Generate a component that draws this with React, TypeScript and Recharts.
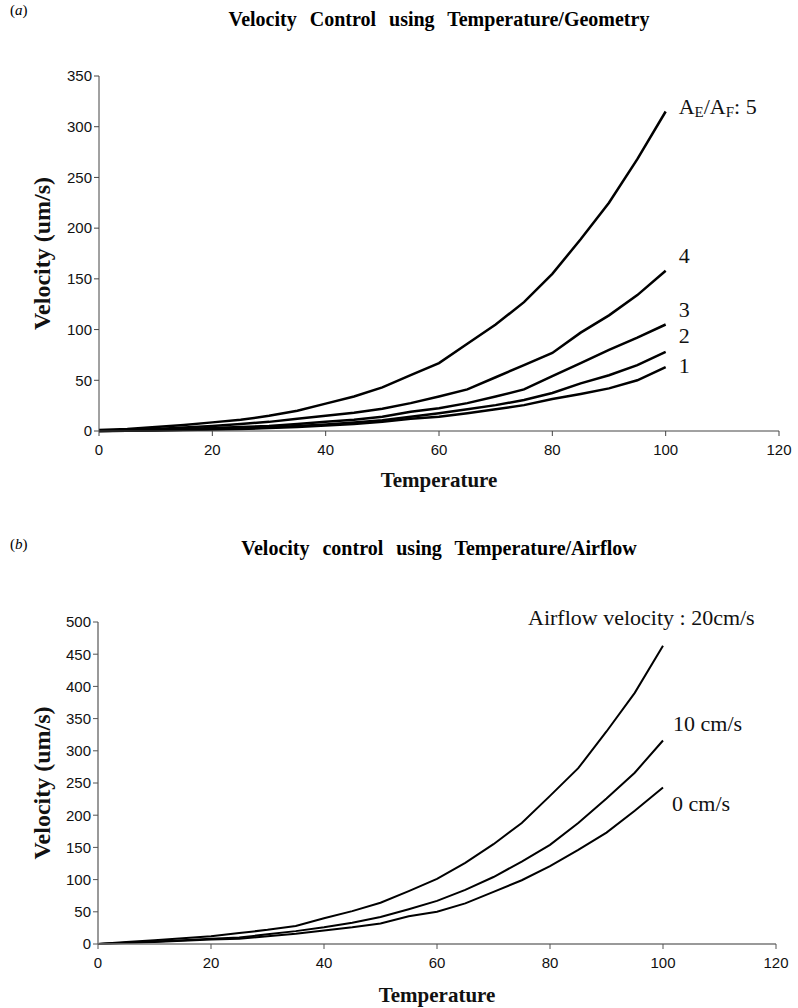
import { LineChart, Line, XAxis, YAxis, Label, LabelList } from "recharts";

// temperature steps shared by every curve
const temperatures = [0, 5, 10, 15, 20, 25, 30, 35, 40, 45, 50, 55, 60, 65, 70, 75, 80, 85, 90, 95, 100];

// (a) velocity vs temperature for each A_E/A_F ratio
const ratio5 = [1, 2, 4, 6, 8.5, 11, 15, 20, 27, 34, 43, 55, 67, 86, 105, 127, 155, 189, 225, 268, 315];
const ratio4 = [0.5, 1, 2, 3.5, 5, 7, 9, 12, 15, 18, 22, 27.5, 34, 41, 53, 65, 77, 97, 114, 134, 158];
const ratio3 = [0, 0.5, 1, 2, 3, 4, 5, 7, 9, 11, 14, 19, 22.5, 27.5, 34, 41, 54, 67, 80, 92, 105];
const ratio2 = [0, 0.3, 0.7, 1.2, 2, 2.5, 3.5, 5, 6.5, 8.5, 10.5, 14, 17.5, 21.5, 25.5, 30.5, 37.5, 47, 55, 65, 78];
const ratio1 = [0, 0.2, 0.5, 1, 1.5, 2, 3, 4, 5.5, 7, 9, 12, 14, 17.5, 21.5, 25.5, 31.5, 36.5, 42, 50, 63];

// (b) velocity vs temperature for each airflow velocity
const air20 = [0, 3, 6, 9, 12, 17, 22, 28, 40, 51, 64, 82, 101, 126, 155, 188, 230, 273, 330, 390, 463];
const air10 = [0, 2, 4, 6, 8, 10, 15, 20, 26, 33, 42, 54, 67, 84, 104, 128, 154, 188, 226, 266, 316];
const air0 = [0, 1.5, 3, 5, 7, 8, 12, 16, 21, 26, 32, 43, 50, 63, 81, 99, 121, 146, 173, 207, 243];

const tempTicks = [0, 20, 40, 60, 80, 100, 120];
const geomTicks = [0, 50, 100, 150, 200, 250, 300, 350];
const airTicks = [0, 50, 100, 150, 200, 250, 300, 350, 400, 450, 500];

const geometryData = temperatures.map((t, i) => ({
  t,
  r5: ratio5[i],
  r4: ratio4[i],
  r3: ratio3[i],
  r2: ratio2[i],
  r1: ratio1[i],
}));

const airflowData = temperatures.map((t, i) => ({
  t,
  a20: air20[i],
  a10: air10[i],
  a0: air0[i],
}));

const SERIF = "'Liberation Serif', 'Times New Roman', serif";
const SANS = "'Liberation Sans', Arial, sans-serif";
const LAST = temperatures.length - 1;

const tickStyle = { fontSize: 15, fill: "#111", fontFamily: SANS };

// text drawn beside the last point of a curve
const endLabel =
  (dx: number, dy: number, body: React.ReactNode) =>
  (props: any) => {
    if (props.index !== LAST) return null;
    return (
      <text x={props.x + dx} y={props.y + dy} fontFamily={SERIF} fontSize={22} fill="#111" dominantBaseline="middle">
        {body}
      </text>
    );
  };

const yTitle = (x: number) => (props: any) => {
  const vb = props.viewBox;
  const cy = vb.y + vb.height / 2;
  return (
    <text x={x} y={cy} transform={`rotate(-90, ${x}, ${cy})`} textAnchor="middle" fontFamily={SERIF} fontWeight="bold" fontSize={24} fill="#111">
      Velocity (um/s)
    </text>
  );
};

const xTitle = (dy: number) => (props: any) => {
  const vb = props.viewBox;
  return (
    <text x={vb.x + vb.width / 2} y={vb.y + dy} textAnchor="middle" fontFamily={SERIF} fontWeight="bold" fontSize={21} fill="#111">
      Temperature
    </text>
  );
};

const panelTag = (letter: string, top: number) => (
  <div style={{ position: "absolute", left: 10, top, fontFamily: SERIF, fontSize: 15 }}>
    (<i>{letter}</i>)
  </div>
);

const chartTitle = (text: string, top: number) => (
  <div
    style={{
      position: "absolute",
      left: 99,
      width: 680,
      top,
      textAlign: "center",
      fontFamily: SERIF,
      fontWeight: "bold",
      fontSize: 20,
      wordSpacing: 8,
    }}
  >
    {text}
  </div>
);

export default function App() {
  return (
    <div style={{ position: "absolute", left: 0, top: 0, width: 798, height: 1008, background: "#fff" }}>
      {panelTag("a", 2)}
      {chartTitle("Velocity Control using Temperature/Geometry", 8)}

      <div style={{ position: "absolute", left: 0, top: 0 }}>
        <LineChart width={798} height={500} data={geometryData} margin={{ top: 76, right: 19, bottom: 39, left: 39 }}>
          <XAxis
            dataKey="t"
            type="number"
            domain={[0, 120]}
            ticks={tempTicks}
            height={30}
            tick={tickStyle}
            tickSize={5}
            tickMargin={8}
            axisLine={{ stroke: "#444" }}
            tickLine={{ stroke: "#444" }}
          >
            <Label content={xTitle(56)} />
          </XAxis>
          <YAxis
            type="number"
            domain={[0, 350]}
            ticks={geomTicks}
            width={60}
            tick={tickStyle}
            tickSize={5}
            axisLine={{ stroke: "#444" }}
            tickLine={{ stroke: "#444" }}
          >
            <Label content={yTitle(50)} />
          </YAxis>
          <Line dataKey="r5" type="linear" stroke="#000" strokeWidth={2.5} dot={false} isAnimationActive={false}>
            <LabelList
              dataKey="r5"
              content={endLabel(13, -3, (
                <>
                  A<tspan fontSize={15} dy={5}>E</tspan>
                  <tspan dy={-5}>/A</tspan>
                  <tspan fontSize={15} dy={5}>F</tspan>
                  <tspan dy={-5}>: 5</tspan>
                </>
              ))}
            />
          </Line>
          <Line dataKey="r4" type="linear" stroke="#000" strokeWidth={2.5} dot={false} isAnimationActive={false}>
            <LabelList dataKey="r4" content={endLabel(13, -13, "4")} />
          </Line>
          <Line dataKey="r3" type="linear" stroke="#000" strokeWidth={2.5} dot={false} isAnimationActive={false}>
            <LabelList dataKey="r3" content={endLabel(13, -13, "3")} />
          </Line>
          <Line dataKey="r2" type="linear" stroke="#000" strokeWidth={2.5} dot={false} isAnimationActive={false}>
            <LabelList dataKey="r2" content={endLabel(13, -14, "2")} />
          </Line>
          <Line dataKey="r1" type="linear" stroke="#000" strokeWidth={2.5} dot={false} isAnimationActive={false}>
            <LabelList dataKey="r1" content={endLabel(13, 1, "1")} />
          </Line>
        </LineChart>
      </div>

      {panelTag("b", 536)}
      {chartTitle("Velocity control using Temperature/Airflow", 537)}

      <div style={{ position: "absolute", left: 0, top: 520 }}>
        <LineChart width={798} height={488} data={airflowData} margin={{ top: 102, right: 22, bottom: 34, left: 38 }}>
          <XAxis
            dataKey="t"
            type="number"
            domain={[0, 120]}
            ticks={tempTicks}
            height={30}
            tick={tickStyle}
            tickSize={5}
            tickMargin={8}
            axisLine={{ stroke: "#777", strokeWidth: 1.5 }}
            tickLine={{ stroke: "#555" }}
          >
            <Label content={xTitle(58)} />
          </XAxis>
          <YAxis
            type="number"
            domain={[0, 500]}
            ticks={airTicks}
            width={60}
            tick={tickStyle}
            tickSize={5}
            axisLine={{ stroke: "#777", strokeWidth: 1.5 }}
            tickLine={{ stroke: "#555" }}
          >
            <Label content={yTitle(50)} />
          </YAxis>
          <Line dataKey="a20" type="linear" stroke="#000" strokeWidth={2} dot={false} isAnimationActive={false}>
            <LabelList dataKey="a20" content={endLabel(-135, -26, "Airflow velocity : 20cm/s")} />
          </Line>
          <Line dataKey="a10" type="linear" stroke="#000" strokeWidth={2} dot={false} isAnimationActive={false}>
            <LabelList dataKey="a10" content={endLabel(10, -15, "10 cm/s")} />
          </Line>
          <Line dataKey="a0" type="linear" stroke="#000" strokeWidth={2} dot={false} isAnimationActive={false}>
            <LabelList dataKey="a0" content={endLabel(9, 18, "0 cm/s")} />
          </Line>
        </LineChart>
      </div>
    </div>
  );
}
